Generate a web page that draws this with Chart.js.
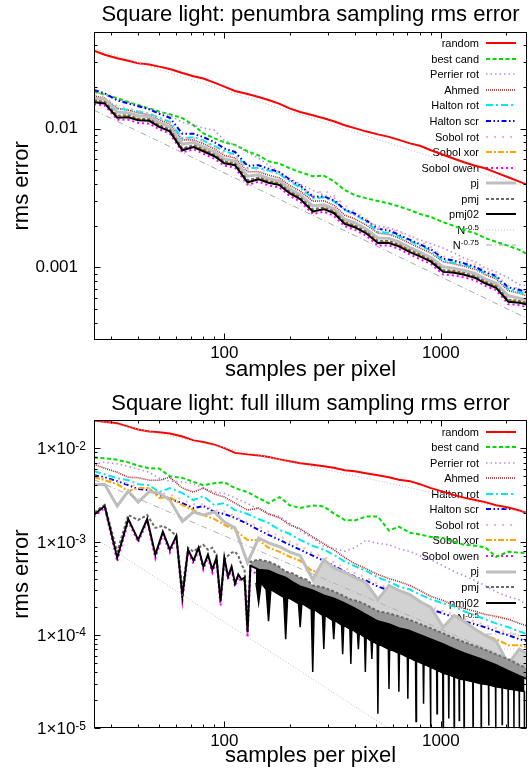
<!DOCTYPE html>
<html>
<head>
<meta charset="utf-8">
<script src="https://cdn.jsdelivr.net/npm/chart.js@4.4.0/dist/chart.umd.min.js"></script>
<style>
  html, body { margin: 0; padding: 0; background: #fff; }
  canvas { display: block; }
</style>
</head>
<body>
<canvas id="topChart" width="531" height="385"></canvas>
<canvas id="botChart" width="531" height="384"></canvas>
<script>
const FONT = "'Liberation Sans', Arial, Helvetica, sans-serif";

// sample counts
const X_GRID = [25, 28, 32, 36, 40, 45, 50, 56, 64, 72, 80, 90, 100, 112, 128, 144, 160, 180, 200, 224,
    256, 288, 320, 360, 400, 450, 512, 576, 640, 720, 800, 900, 1024, 1152, 1280, 1440, 1600, 1800, 2048, 2304, 2500];
const X_STEP4 = [24, 28, 32, 36, 40, 44, 48, 52, 56, 60, 64, 68, 72, 76, 80, 84, 88, 92, 96, 100,
    104, 108, 112, 116, 120, 124, 128];
const X_HI = [132, 144, 160, 176, 192, 208, 224, 240, 256, 288, 320, 352, 384, 416, 448, 512, 576, 640, 704, 768,
    896, 1024, 1152, 1280, 1536, 1792, 2048, 2304, 2560];
const X_REF = [25, 2500];

// tick values
const X_MAJOR = [100, 1000];
const X_MINOR = [30, 40, 50, 60, 70, 80, 90, 200, 300, 400, 500, 600, 700, 800, 900, 2000];
const TOP_Y_MAJOR = [0.001, 0.01];
const TOP_Y_MINOR = [0.0004, 0.0005, 0.0006, 0.0007, 0.0008, 0.0009, 0.002, 0.003, 0.004, 0.005, 0.006, 0.007,
    0.008, 0.009, 0.02, 0.03, 0.04];
const BOT_Y_MAJOR = [1e-5, 1e-4, 1e-3, 1e-2];
const BOT_Y_MINOR = [2e-5, 3e-5, 4e-5, 5e-5, 6e-5, 7e-5, 8e-5, 9e-5, 2e-4, 3e-4, 4e-4, 5e-4, 6e-4, 7e-4, 8e-4, 9e-4,
    2e-3, 3e-3, 4e-3, 5e-3, 6e-3, 7e-3, 8e-3, 9e-3];

// ---- penumbra (top) ----
const TOP_RANDOM = [0.0365, 0.0341, 0.0322, 0.0309, 0.0296, 0.0290, 0.0280, 0.0269, 0.0252, 0.0239, 0.0230, 0.0215, 0.0201, 0.0187, 0.0178, 0.0169, 0.0161, 0.0151, 0.0140, 0.0132,
    0.0125, 0.0119, 0.0113, 0.0106, 0.0101, 0.00957, 0.00910, 0.00873, 0.00831, 0.00784, 0.00753, 0.00699, 0.00649, 0.00607, 0.00573, 0.00541, 0.00519, 0.00482, 0.00447, 0.00415, 0.00395];
const TOP_BEST = [0.0185, 0.0176, 0.0166, 0.0156, 0.0148, 0.0140, 0.0133, 0.0127, 0.0119, 0.0106, 0.00925, 0.00852, 0.00797, 0.00765, 0.00688, 0.00643, 0.00582, 0.00559, 0.00519, 0.00486,
    0.00455, 0.00458, 0.00419, 0.00361, 0.00332, 0.00316, 0.00301, 0.00289, 0.00275, 0.00259, 0.00243, 0.00231, 0.00212, 0.00199, 0.00186, 0.00176, 0.00163, 0.00153, 0.00143, 0.00134, 0.00125];
const TOP_PERRIER = [0.0184, 0.0176, 0.0162, 0.0155, 0.0147, 0.0140, 0.0131, 0.0125, 0.0111, 0.0106, 0.0101, 0.00973, 0.00824, 0.00759, 0.00676, 0.00612, 0.00546, 0.00486, 0.00440, 0.00398,
    0.00360, 0.00332, 0.00321, 0.00259, 0.00239, 0.00216, 0.00199, 0.00193, 0.00183, 0.00169, 0.00158, 0.00148, 0.00138, 0.00127, 0.00117, 0.00110, 0.000993, 0.000929, 0.000842, 0.000750, 0.000738];
const TOP_AHMED = [0.0172, 0.0166, 0.0140, 0.0136, 0.0130, 0.0126, 0.0116, 0.0108, 0.00830, 0.00830, 0.00780, 0.00715, 0.00640, 0.00615, 0.00490, 0.00490, 0.00462, 0.00442, 0.00390, 0.00355,
    0.00300, 0.00302, 0.00282, 0.00238, 0.00224, 0.00203, 0.00177, 0.00173, 0.00163, 0.00149, 0.00138, 0.00127, 0.00110, 0.00106, 0.00102, 0.000970, 0.000890, 0.000825, 0.000680, 0.000650, 0.000625];
const TOP_HROT = [0.0168, 0.0160, 0.0140, 0.0137, 0.0133, 0.0128, 0.0120, 0.0112, 0.00850, 0.00870, 0.00820, 0.00750, 0.00690, 0.00650, 0.00520, 0.00520, 0.00500, 0.00470, 0.00420, 0.00375,
    0.00315, 0.00320, 0.00300, 0.00260, 0.00240, 0.00215, 0.00180, 0.00178, 0.00168, 0.00155, 0.00144, 0.00132, 0.00112, 0.00108, 0.00104, 0.000990, 0.000910, 0.000850, 0.000700, 0.000665, 0.000640];
const TOP_HSCR = [0.0190, 0.0180, 0.0160, 0.0152, 0.0145, 0.0138, 0.0128, 0.0120, 0.00920, 0.00920, 0.00870, 0.00800, 0.00720, 0.00680, 0.00540, 0.00545, 0.00515, 0.00485, 0.00430, 0.00390,
    0.00325, 0.00325, 0.00305, 0.00262, 0.00245, 0.00220, 0.00190, 0.00185, 0.00172, 0.00158, 0.00147, 0.00135, 0.00116, 0.00112, 0.00107, 0.00101, 0.000930, 0.000870, 0.000720, 0.000690, 0.000660];
const TOP_SROT = [0.0175, 0.0168, 0.0145, 0.0140, 0.0134, 0.0128, 0.0118, 0.0110, 0.00860, 0.00860, 0.00810, 0.00740, 0.00660, 0.00640, 0.00510, 0.00510, 0.00490, 0.00470, 0.00420, 0.00390,
    0.00330, 0.00360, 0.00330, 0.00280, 0.00255, 0.00225, 0.00190, 0.00190, 0.00180, 0.00168, 0.00155, 0.00140, 0.00120, 0.00118, 0.00112, 0.00105, 0.000960, 0.000880, 0.000740, 0.000700, 0.000670];
const TOP_XOR = [0.0158, 0.0154, 0.0122, 0.0123, 0.0117, 0.0116, 0.0105, 0.00975, 0.00710, 0.00750, 0.00702, 0.00645, 0.00575, 0.00556, 0.00405, 0.00440, 0.00416, 0.00400, 0.00350, 0.00318,
    0.00250, 0.00268, 0.00252, 0.00210, 0.00199, 0.00180, 0.00152, 0.00153, 0.00145, 0.00132, 0.00122, 0.00112, 0.000945, 0.000932, 0.000902, 0.000858, 0.000784, 0.000728, 0.000580, 0.000568, 0.000551];
const TOP_OWEN = [0.0150, 0.0147, 0.0116, 0.0116, 0.0110, 0.0109, 0.0099, 0.00920, 0.00675, 0.00710, 0.00660, 0.00607, 0.00541, 0.00524, 0.00395, 0.00415, 0.00390, 0.00376, 0.00329, 0.00298,
    0.00243, 0.00252, 0.00236, 0.00198, 0.00187, 0.00170, 0.00144, 0.00144, 0.00136, 0.00124, 0.00115, 0.00106, 0.000890, 0.000876, 0.000848, 0.000808, 0.000738, 0.000685, 0.000543, 0.000535, 0.000518];
const TOP_PJ = [0.0166, 0.0163, 0.0132, 0.0130, 0.0124, 0.0122, 0.0111, 0.0103, 0.00775, 0.00795, 0.00740, 0.00680, 0.00606, 0.00585, 0.00455, 0.00465, 0.00438, 0.00420, 0.00368, 0.00334,
    0.00278, 0.00283, 0.00266, 0.00222, 0.00210, 0.00190, 0.00163, 0.00162, 0.00153, 0.00139, 0.00129, 0.00118, 0.00101, 0.000985, 0.000952, 0.000905, 0.000828, 0.000768, 0.000625, 0.000600, 0.000580];
const TOP_PMJ = [0.0160, 0.0156, 0.0124, 0.0125, 0.0118, 0.0117, 0.0106, 0.00985, 0.00720, 0.00760, 0.00710, 0.00650, 0.00580, 0.00562, 0.00425, 0.00445, 0.00420, 0.00402, 0.00353, 0.00320,
    0.00262, 0.00271, 0.00254, 0.00212, 0.00201, 0.00182, 0.00155, 0.00155, 0.00146, 0.00133, 0.00124, 0.00113, 0.000960, 0.000942, 0.000912, 0.000866, 0.000792, 0.000735, 0.000585, 0.000574, 0.000556];
const TOP_PMJ02 = [0.0155, 0.0152, 0.0120, 0.0121, 0.0115, 0.0114, 0.0103, 0.00957, 0.00699, 0.00738, 0.00688, 0.00633, 0.00564, 0.00546, 0.00411, 0.00432, 0.00408, 0.00392, 0.00343, 0.00311,
    0.00253, 0.00263, 0.00247, 0.00206, 0.00195, 0.00177, 0.00150, 0.00150, 0.00142, 0.00129, 0.00120, 0.00110, 0.000929, 0.000914, 0.000885, 0.000842, 0.000769, 0.000714, 0.000566, 0.000557, 0.000540];
const TOP_N05 = [0.0378, 0.00378];
const TOP_N075 = [0.0136, 0.00043];

// ---- full illum (bottom) ----
const BOT_RANDOM = [0.0197, 0.0192, 0.0185, 0.0170, 0.0158, 0.0151, 0.0148, 0.0143, 0.0133, 0.0121, 0.0116, 0.0109, 0.0100, 0.00889, 0.00857, 0.00836, 0.00805, 0.00758, 0.00722, 0.00688,
    0.00662, 0.00638, 0.00615, 0.00579, 0.00564, 0.00538, 0.00513, 0.00488, 0.00459, 0.00443, 0.00411, 0.00373, 0.00342, 0.00314, 0.00295, 0.00278, 0.00264, 0.00245, 0.00231, 0.00215, 0.00202];
const BOT_BEST = [0.00792, 0.00781, 0.00749, 0.00704, 0.00647, 0.00608, 0.00604, 0.00500, 0.00480, 0.00435, 0.00401, 0.00421, 0.00431, 0.00373, 0.00338, 0.00292, 0.00258, 0.00299, 0.00245, 0.00228,
    0.00243, 0.00237, 0.00200, 0.00170, 0.00168, 0.00185, 0.00185, 0.00131, 0.00144, 0.00124, 0.00119, 0.00112, 0.00109, 0.000993, 0.000923, 0.000900, 0.000867, 0.000687, 0.000776, 0.000758, 0.000749];
const BOT_PERRIER = [0.00679, 0.00705, 0.00679, 0.00638, 0.00593, 0.00551, 0.00476, 0.00443, 0.00435, 0.00416, 0.00373, 0.00338, 0.00327, 0.00292, 0.00255, 0.00223, 0.00200, 0.00185, 0.00158, 0.00130,
    0.00109, 0.000885, 0.000848, 0.000787, 0.000857, 0.00103, 0.000957, 0.000922, 0.000836, 0.000783, 0.000705, 0.000638, 0.000551, 0.000476, 0.000431, 0.000382, 0.000338, 0.000288, 0.000258, 0.000237, 0.000207];
const BOT_AHMED = [0.00671, 0.00608, 0.00551, 0.00488, 0.00482, 0.00453, 0.00453, 0.00488, 0.00373, 0.00338, 0.00373, 0.00322, 0.00299, 0.00258, 0.00217, 0.00228, 0.00197, 0.00179, 0.00151, 0.00137,
    0.00112, 0.000946, 0.000817, 0.000672, 0.000580, 0.000513, 0.000443, 0.000401, 0.000373, 0.000338, 0.000299, 0.000258, 0.000234, 0.000207, 0.000192, 0.000179, 0.000166, 0.000158, 0.000147, 0.000133, 0.000125];
const BOT_HROT = [0.00565, 0.00525, 0.00476, 0.00453, 0.00411, 0.00401, 0.00338, 0.00373, 0.00330, 0.00278, 0.00306, 0.00245, 0.00258, 0.00217, 0.00197, 0.00174, 0.00158, 0.00133, 0.00121, 0.00104,
    0.000899, 0.000817, 0.000723, 0.000608, 0.000545, 0.000488, 0.000411, 0.000373, 0.000330, 0.000306, 0.000271, 0.000240, 0.000218, 0.000202, 0.000179, 0.000162, 0.000147, 0.000133, 0.000121, 0.000109, 0.000102];
const BOT_HSCR = [0.00513, 0.00488, 0.00443, 0.00401, 0.00364, 0.00355, 0.00314, 0.00285, 0.00258, 0.00228, 0.00240, 0.00207, 0.00197, 0.00179, 0.00154, 0.00133, 0.00118, 0.00104, 0.000923, 0.000817,
    0.000705, 0.000623, 0.000551, 0.000476, 0.000421, 0.000382, 0.000330, 0.000299, 0.000264, 0.000240, 0.000207, 0.000188, 0.000170, 0.000154, 0.000140, 0.000130, 0.000121, 0.000109, 0.0000993, 0.0000900, 0.0000857];
const BOT_SROT = [0.00500, 0.00470, 0.00430, 0.00420, 0.00380, 0.00370, 0.00330, 0.00320, 0.00280, 0.00250, 0.00250, 0.00215, 0.00210, 0.00185, 0.00160, 0.00145, 0.00128, 0.00115, 0.00100, 0.00090,
    0.00075, 0.00068, 0.00060, 0.00052, 0.00046, 0.00041, 0.00035, 0.00032, 0.00029, 0.00026, 0.00023, 0.00020, 0.000180, 0.000165, 0.000150, 0.000138, 0.000128, 0.000118, 0.000105, 0.000098, 0.000093];
const BOT_XOR = [0.00491, 0.00453, 0.00411, 0.00346, 0.00373, 0.00373, 0.00292, 0.00299, 0.00245, 0.00217, 0.00192, 0.00174, 0.00151, 0.00133, 0.00104, 0.00104, 0.000857, 0.000776, 0.000687, 0.000623,
    0.000476, 0.000513, 0.000431, 0.000364, 0.000306, 0.000278, 0.000218, 0.000234, 0.000207, 0.000188, 0.000170, 0.000151, 0.000127, 0.000133, 0.000121, 0.000109, 0.0000993, 0.0000900, 0.0000777, 0.0000777, 0.0000740];
const BOT_OWEN_LO = [0.00170, 0.00230, 0.000610, 0.00165, 0.000980, 0.00165, 0.000660, 0.00120, 0.000760, 0.00109, 0.000230, 0.000770, 0.000580, 0.000810,
    0.000500, 0.000680, 0.000465, 0.000630, 0.000205, 0.000630, 0.000395, 0.000505, 0.000330, 0.000415, 0.000370, 0.000385, 0.000094];
const BOT_OWEN_HI = [4.9e-4, 4.4e-4, 4.2e-4, 3.8e-4, 3.4e-4, 3.1e-4, 2.8e-4, 2.6e-4, 2.3e-4, 2.1e-4, 1.9e-4, 1.7e-4, 1.55e-4, 1.4e-4, 1.3e-4,
    1.1e-4, 1.0e-4, 9.2e-5, 8.5e-5, 7.9e-5, 7.0e-5, 6.2e-5, 5.6e-5, 5.1e-5, 4.5e-5, 4.0e-5, 3.6e-5, 3.3e-5, 3.0e-5];
const BOT_PJ = [0.00406, 0.00411, 0.00240, 0.00346, 0.00264, 0.00342, 0.00330, 0.00278, 0.00164, 0.00207, 0.00192, 0.00207, 0.00162, 0.00140, 0.000593, 0.00109, 0.000968, 0.000879, 0.000776, 0.000705,
    0.000392, 0.000638, 0.000525, 0.000465, 0.000411, 0.000364, 0.000240, 0.000338, 0.000299, 0.000271, 0.000228, 0.000197, 0.000121, 0.000162, 0.000140, 0.000115, 0.0000993, 0.0000857, 0.0000488, 0.0000705, 0.0000624];
const BOT_PMJ_LO = [0.00192, 0.00246, 0.000777, 0.00192, 0.00170, 0.00192, 0.00140, 0.00147, 0.00133, 0.00115, 0.000306, 0.000857, 0.000777, 0.000857,
    0.000923, 0.000817, 0.000857, 0.000705, 0.000252, 0.000638, 0.000705, 0.000759, 0.000777, 0.000705, 0.000565, 0.000500, 0.000140];
const BOT_PMJ_HI = [6.08e-4, 6.39e-4, 6.08e-4, 5.51e-4, 4.76e-4, 4.53e-4, 4.11e-4, 3.91e-4, 3.38e-4, 3.22e-4, 2.92e-4, 2.64e-4, 2.40e-4, 2.28e-4, 2.12e-4,
    1.79e-4, 1.70e-4, 1.58e-4, 1.47e-4, 1.36e-4, 1.18e-4, 1.04e-4, 9.22e-5, 8.36e-5, 7.22e-5, 6.23e-5, 5.51e-5, 4.76e-5, 4.32e-5];
const BOT_PMJ02_LO = [0.00179, 0.00240, 0.000671, 0.00174, 0.00104, 0.00174, 0.000723, 0.00127, 0.000817, 0.00115, 0.000258, 0.000817, 0.000624, 0.000857,
    0.000538, 0.000723, 0.000500, 0.000671, 0.000229, 0.000671, 0.000421, 0.000538, 0.000355, 0.000443, 0.000392, 0.000411, 0.000106];
const BOT_PMJ02_HI = [5.51e-4, 5.00e-4, 4.88e-4, 4.42e-4, 4.11e-4, 3.64e-4, 3.30e-4, 3.14e-4, 2.99e-4, 2.64e-4, 2.46e-4, 2.23e-4, 2.02e-4, 1.83e-4, 1.66e-4,
    1.40e-4, 1.30e-4, 1.18e-4, 1.12e-4, 1.04e-4, 9.00e-5, 7.96e-5, 7.05e-5, 6.39e-5, 5.51e-5, 4.76e-5, 4.11e-5, 3.64e-5, 3.30e-5];
// pmj02 drops below its band at these counts
const PMJ02_SPIKE_X = [144, 160, 192, 224, 256, 288, 320, 352, 384, 416, 448, 480, 512, 576, 640, 704, 768, 832, 896, 960, 1024,
    1088, 1152, 1216, 1280, 1408, 1536, 1664, 1792, 1920, 2048, 2176, 2304, 2432];
const PMJ02_SPIKE_Y = [2.2e-4, 1.40e-4, 9.00e-5, 1.21e-4, 4.01e-5, 7.05e-5, 9.00e-5, 6.23e-5, 4.88e-5, 7.05e-5, 4.01e-5, 5.51e-5, 1.43e-5, 2.64e-5, 2.46e-5, 2.07e-5, 1.18e-5, 1.83e-5, 1.04e-5, 1.43e-5, 7.8e-6,
    1.27e-5, 8.8e-6, 1.21e-5, 8.8e-6, 1.04e-5, 8.8e-6, 1.07e-5, 8.8e-6, 1.10e-5, 7.8e-6, 9.9e-6, 8.8e-6, 9.5e-6];
const PMJ02_FLOOR = [3.6e-4, 3.06e-4, 2.52e-4, 2.17e-4, 1.88e-4, 1.62e-4, 1.43e-4, 1.27e-4, 1.15e-4, 1.04e-4, 9.45e-5, 8.57e-5, 7.96e-5, 7.05e-5, 6.39e-5, 5.79e-5, 5.25e-5, 4.88e-5, 4.53e-5, 4.21e-5, 3.91e-5,
    3.73e-5, 3.55e-5, 3.38e-5, 3.30e-5, 3.14e-5, 2.99e-5, 2.92e-5, 2.78e-5, 2.71e-5, 2.64e-5, 2.58e-5, 2.52e-5, 2.48e-5];
const BOT_N05 = [0.0202, 0.00202];
const BOT_N1 = [0.0046, 0.000046];
const BOT_N15 = [0.0011, 0.0000011];

function pts(xs, ys) {
    return xs.map((x, i) => ({ x: x, y: ys[i] }));
}

function line(label, xs, ys, color, width, dash) {
    return { label: label, data: pts(xs, ys), borderColor: color, borderWidth: width, borderDash: dash || [],
        pointRadius: 0, fill: false, clip: 0 };
}

// filled to the next dataset
function band(data, color, edge) {
    return { data: data, borderColor: edge ? color : 'rgba(0,0,0,0)', borderWidth: edge || 1,
        backgroundColor: color, fill: '+1', pointRadius: 0, clip: 0 };
}

function spikeData(xs, ys, floor) {
    const out = [];
    xs.forEach((x, i) => {
        out.push({ x: x - 4, y: floor[i] }, { x: x, y: ys[i] }, { x: x + 4, y: floor[i] });
    });
    return out;
}

function supText(ctx, base, sup, xRight, y, size, supSize, rise) {
    ctx.textAlign = 'right';
    ctx.textBaseline = 'alphabetic';
    let w = 0;
    if (sup) {
        ctx.font = supSize + 'px ' + FONT;
        w = ctx.measureText(sup).width;
        ctx.fillText(sup, xRight, y - rise);
    }
    ctx.font = size + 'px ' + FONT;
    ctx.fillText(base, xRight - w, y);
}

const gnuplotFrame = {
    id: 'gnuplotFrame',
    beforeDatasetsDraw(chart) {
        const { ctx, chartArea: a } = chart;
        ctx.save();
        let y = a.top + 11.6;
        chart.data.datasets.forEach(ds => {
            if (!ds.label) return;
            const parts = ds.label.split('^');
            ctx.fillStyle = '#000';
            supText(ctx, parts[0], parts[1] || '', a.right - 48, y + 3.9, 11, 8, 4);
            ctx.strokeStyle = ds.borderColor;
            ctx.lineWidth = ds.borderWidth;
            ctx.setLineDash(ds.borderDash || []);
            ctx.beginPath();
            ctx.moveTo(a.right - 41, Math.round(y));
            ctx.lineTo(a.right - 11, Math.round(y));
            ctx.stroke();
            y += 15.55;
        });
        ctx.restore();
    },
    afterDatasetsDraw(chart, args, opts) {
        const { ctx, chartArea: a, scales } = chart;
        const L = Math.round(a.left) + 0.5, R = Math.round(a.right) - 0.5;
        const T = Math.round(a.top) + 0.5, B = Math.round(a.bottom) - 0.5;
        ctx.save();
        ctx.strokeStyle = '#000';
        ctx.lineWidth = 1;
        ctx.setLineDash([]);
        ctx.beginPath();
        const xMark = (vals, len) => vals.forEach(v => {
            const px = Math.round(scales.x.getPixelForValue(v)) + 0.5;
            ctx.moveTo(px, B); ctx.lineTo(px, B - len);
            ctx.moveTo(px, T); ctx.lineTo(px, T + len);
        });
        const yMark = (vals, len) => vals.forEach(v => {
            const py = Math.round(scales.y.getPixelForValue(v)) + 0.5;
            ctx.moveTo(L, py); ctx.lineTo(L + len, py);
            ctx.moveTo(R, py); ctx.lineTo(R - len, py);
        });
        xMark(X_MAJOR, 6); xMark(X_MINOR, 3);
        yMark(opts.yMajor, 6); yMark(opts.yMinor, 3);
        ctx.stroke();
        ctx.strokeRect(L, T, R - L, B - T);
        if (opts.supLabels) {
            ctx.fillStyle = '#000';
            opts.yMajor.forEach(v => {
                const py = scales.y.getPixelForValue(v);
                supText(ctx, '1\u00d710', String(Math.round(Math.log10(v))), a.left - 8, py + 6.1, 17, 12, 4.6);
            });
        }
        ctx.restore();
    }
};

function powLabel(v) {
    const e = Math.log10(v);
    return Math.abs(e - Math.round(e)) < 1e-9 ? v.toFixed(Math.max(0, -Math.round(e))) : '';
}

function makeChart(id, cfg) {
    const datasets = cfg.datasets;
    datasets.forEach((d, i) => { d.order = datasets.length - i; });
    return new Chart(document.getElementById(id), {
        type: 'line',
        data: { datasets: datasets },
        options: {
            responsive: false, animation: false, devicePixelRatio: 1,
            layout: { padding: { left: 0, right: 4, top: 0, bottom: 0 } },
            plugins: {
                legend: { display: false },
                tooltip: { enabled: false },
                title: { display: true, text: cfg.title, fullSize: false, color: '#000',
                    font: { size: 22, weight: 'normal' }, padding: cfg.titlePad },
                gnuplotFrame: { yMajor: cfg.yMajor, yMinor: cfg.yMinor, supLabels: cfg.supLabels }
            },
            scales: {
                x: {
                    type: 'logarithmic', min: 25, max: 2500,
                    grid: { display: false }, border: { display: false },
                    ticks: { autoSkip: false, maxRotation: 0, padding: cfg.xTickPad, color: '#000',
                        font: { size: 17 }, callback: v => powLabel(v) },
                    title: { display: true, text: 'samples per pixel', color: '#000', font: { size: 22 },
                        padding: { top: 0, bottom: cfg.xTitlePad } },
                    afterFit: s => { s.height = cfg.xHeight; }
                },
                y: {
                    type: 'logarithmic', min: cfg.yMin, max: cfg.yMax,
                    grid: { display: false }, border: { display: false },
                    ticks: { display: !cfg.supLabels, autoSkip: false, padding: 8, color: '#000',
                        font: { size: 17 }, callback: v => powLabel(v) },
                    title: { display: true, text: 'rms error', color: '#000', font: { size: 22 },
                        padding: { top: 9, bottom: 0 } },
                    afterFit: s => { s.width = 94; }
                }
            }
        },
        plugins: [gnuplotFrame]
    });
}

Chart.defaults.font.family = FONT;

const RED = '#ff0000', GREEN = '#00dd00', LAVENDER = '#b48cf2', BROWN = '#a52a2a', CYAN = '#00e8f0',
    BLUE = '#0000ff', PINK = '#ffb0b0', ORANGE = '#ffa500', MAGENTA = '#ff00ff', LIGHTGRAY = '#bebebe',
    DARKGRAY = '#6a6a6a', REFGRAY = '#bdbdbd';

makeChart('topChart', {
    title: 'Square light: penumbra sampling rms error',
    titlePad: { top: 1.9, bottom: 3.4 },
    xTickPad: -5, xTitlePad: 2, xHeight: 45,
    yMin: 0.0003, yMax: 0.05, yMajor: TOP_Y_MAJOR, yMinor: TOP_Y_MINOR, supLabels: false,
    datasets: [
        line('random', X_GRID, TOP_RANDOM, RED, 2),
        line('best cand', X_GRID, TOP_BEST, GREEN, 2, [4, 2.5]),
        line('Perrier rot', X_GRID, TOP_PERRIER, LAVENDER, 1.6, [1.5, 3]),
        line('Ahmed', X_GRID, TOP_AHMED, BROWN, 1.6, [1, 1]),
        line('Halton rot', X_GRID, TOP_HROT, CYAN, 2, [7, 3, 2, 3]),
        line('Halton scr', X_GRID, TOP_HSCR, BLUE, 2, [5, 2.5, 1.5, 2.5, 1.5, 2.5]),
        line('Sobol rot', X_GRID, TOP_SROT, PINK, 2, [2, 6]),
        line('Sobol xor', X_GRID, TOP_XOR, ORANGE, 2, [6, 2, 2, 2]),
        line('Sobol owen', X_GRID, TOP_OWEN, MAGENTA, 2, [2, 3]),
        line('pj', X_GRID, TOP_PJ, LIGHTGRAY, 3),
        line('pmj', X_GRID, TOP_PMJ, DARKGRAY, 2, [3, 2]),
        line('pmj02', X_GRID, TOP_PMJ02, '#000', 2),
        line('N^-0.5', X_REF, TOP_N05, REFGRAY, 1, [1, 2]),
        line('N^-0.75', X_REF, TOP_N075, '#a8a8a8', 1, [6, 3, 1, 3])
    ]
});

makeChart('botChart', {
    title: 'Square light: full illum sampling rms error',
    titlePad: { top: 5.9, bottom: 2.7 },
    xTickPad: -5.4, xTitlePad: 0, xHeight: 40.7,
    yMin: 1e-5, yMax: 0.02, yMajor: BOT_Y_MAJOR, yMinor: BOT_Y_MINOR, supLabels: true,
    datasets: [
        line('random', X_GRID, BOT_RANDOM, RED, 2),
        line('best cand', X_GRID, BOT_BEST, GREEN, 2, [4, 2.5]),
        line('Perrier rot', X_GRID, BOT_PERRIER, LAVENDER, 1.6, [1.5, 3]),
        line('Ahmed', X_GRID, BOT_AHMED, BROWN, 1.6, [1, 1]),
        line('Halton rot', X_GRID, BOT_HROT, CYAN, 2, [7, 3, 2, 3]),
        line('Halton scr', X_GRID, BOT_HSCR, BLUE, 2, [5, 2.5, 1.5, 2.5, 1.5, 2.5]),
        line('Sobol rot', X_GRID, BOT_SROT, PINK, 2, [2, 6]),
        line('Sobol xor', X_GRID, BOT_XOR, ORANGE, 2, [6, 2, 2, 2]),
        line('Sobol owen', X_STEP4.concat(X_HI), BOT_OWEN_LO.concat(BOT_OWEN_HI), MAGENTA, 2, [2, 3]),
        band(pts(X_HI.slice(8), BOT_PMJ_HI.slice(8)), '#d2d2d2'),
        line('pj', X_GRID, BOT_PJ, LIGHTGRAY, 3),
        band(pts(X_HI, BOT_PMJ02_HI), '#979797'),
        line('pmj', X_STEP4.concat(X_HI), BOT_PMJ_LO.concat(BOT_PMJ_HI), DARKGRAY, 2, [3, 2]),
        band(spikeData(PMJ02_SPIKE_X, PMJ02_SPIKE_Y, PMJ02_FLOOR), '#000', 1.5),
        line('pmj02', X_STEP4.concat(X_HI), BOT_PMJ02_LO.concat(BOT_PMJ02_HI), '#000', 2),
        line('N^-0.5', X_REF, BOT_N05, REFGRAY, 1, [1, 2]),
        line('N^-1', X_REF, BOT_N1, '#b0b0b0', 1, [6, 3, 1, 3]),
        line('N^-1.5', X_REF, BOT_N15, REFGRAY, 1, [1, 2])
    ]
});
</script>
</body>
</html>
